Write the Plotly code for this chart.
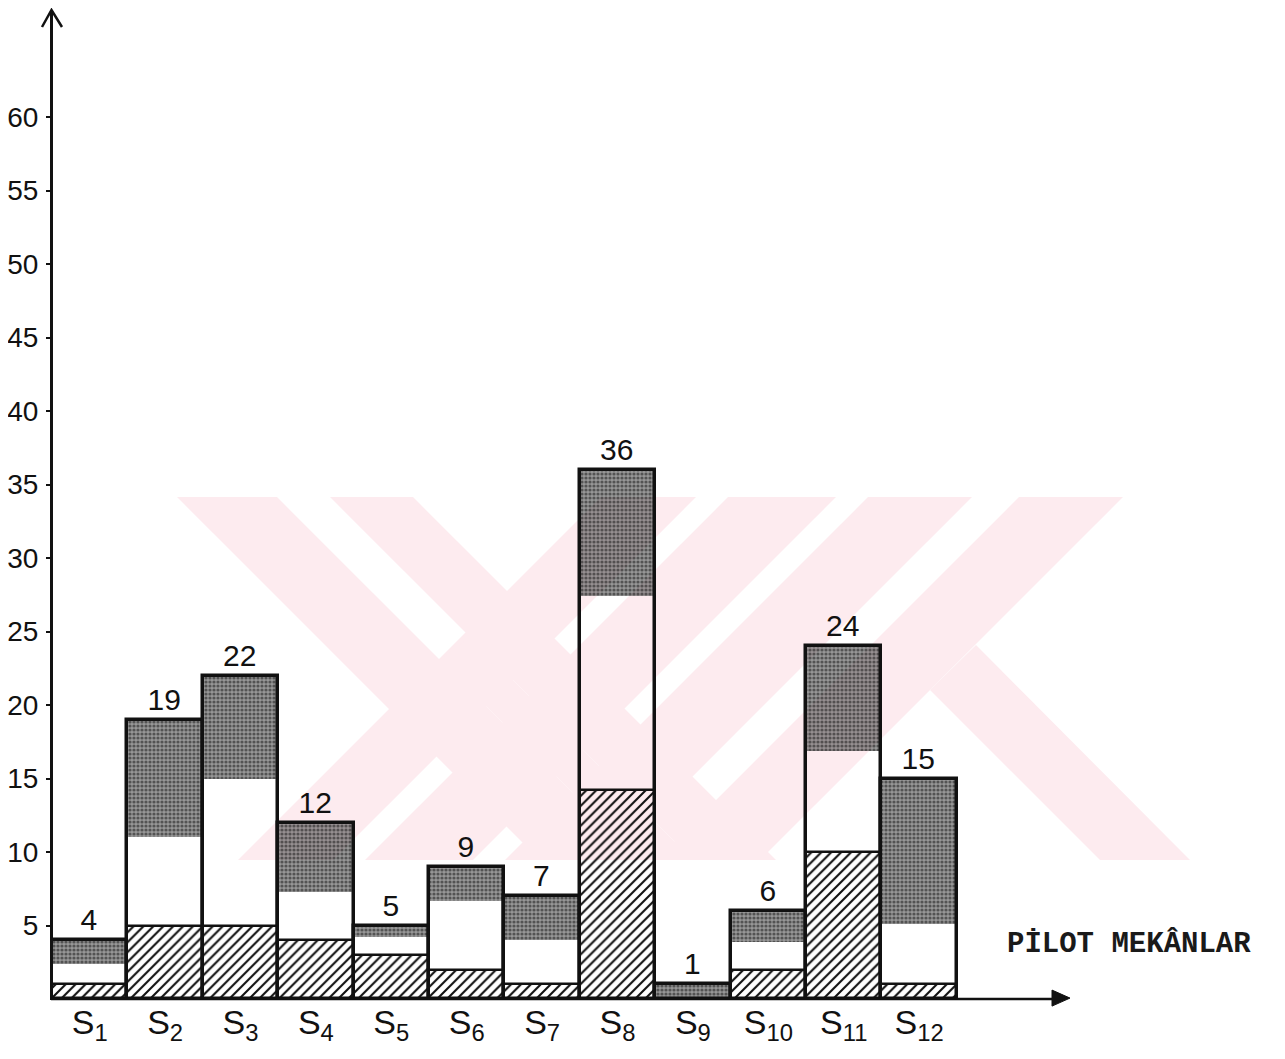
import plotly.graph_objects as go

# ---------------- data ----------------
categories = ["S<sub>1</sub>", "S<sub>2</sub>", "S<sub>3</sub>", "S<sub>4</sub>", "S<sub>5</sub>", "S<sub>6</sub>",
              "S<sub>7</sub>", "S<sub>8</sub>", "S<sub>9</sub>", "S<sub>10</sub>", "S<sub>11</sub>", "S<sub>12</sub>"]
hatched = [1, 5, 5, 4, 3, 2, 1, 14.2, 0, 2, 10, 1]
plain = [1.4, 6, 10, 3.3, 1.2, 4.7, 3, 13.2, 0, 1.9, 6.9, 4.1]
stippled = [1.6, 8, 7, 4.7, 0.8, 2.3, 3, 8.6, 1, 2.1, 7.1, 9.9]
totals = [4, 19, 22, 12, 5, 9, 7, 36, 1, 6, 24, 15]
y_ticks = [5, 10, 15, 20, 25, 30, 35, 40, 45, 50, 55, 60]
axis_title = "PİLOT MEKÂNLAR"

# ---------------- geometry of the page ----------------
PAGE_OFF = 8                       # default body margin of the html page
W, H = 1285 - 2 * PAGE_OFF, 1059 - 2 * PAGE_OFF
PLOT_L = 44                        # px of left plot edge inside the figure (= y axis)
PX_PER_BAR = 75.4
PX_PER_UNIT = 14.7
ZERO_PAGE_PY = 999                 # page pixel row of value 0
PLOT_W = W - PLOT_L
X_MIN = -0.5
X_MAX = X_MIN + PLOT_W / PX_PER_BAR
Y_MIN = -0.13
Y_MAX = (ZERO_PAGE_PY - PAGE_OFF) / PX_PER_UNIT
PLOT_H = (Y_MAX - Y_MIN) * PX_PER_UNIT
B_MARGIN = H - PLOT_H


def px2x(px):
    return X_MIN + (px - PAGE_OFF - PLOT_L) / PX_PER_BAR


def py2y(py):
    return (ZERO_PAGE_PY - py) / PX_PER_UNIT


def px2paper(px):
    return (px - PAGE_OFF - PLOT_L) / PLOT_W


def py2paper(py):
    return (py2y(py) - Y_MIN) / (Y_MAX - Y_MIN)


def path_data(points, close=True):
    s = "M " + " L ".join(f"{px2x(a):.4f},{py2y(b):.4f}" for a, b in points)
    return s + (" Z" if close else "")


def path_paper(points, close=True):
    s = "M " + " L ".join(f"{px2paper(a):.5f},{py2paper(b):.5f}" for a, b in points)
    return s + (" Z" if close else "")


xs = list(range(len(categories)))
base_plain = [h for h in hatched]
base_stip = [h + p for h, p in zip(hatched, plain)]

fig = go.Figure()

# hatched bottom segment
fig.add_trace(go.Bar(
    x=xs, y=hatched, base=[0] * len(xs), width=1,
    marker=dict(color="rgba(0,0,0,0)",
                pattern=dict(shape="/", fgcolor="#111111", bgcolor="rgba(0,0,0,0)",
                             size=7, solidity=0.3, fillmode="replace"),
                line=dict(color="#111111", width=2.5)),
    showlegend=False, hoverinfo="skip"))

# plain (white) middle segment
fig.add_trace(go.Bar(
    x=xs, y=plain, base=base_plain, width=1,
    marker=dict(color="rgba(0,0,0,0)", line=dict(width=0)),
    showlegend=False, hoverinfo="skip"))

# stippled top segment
fig.add_trace(go.Bar(
    x=xs, y=stippled, base=base_stip, width=1,
    marker=dict(color="rgba(70,70,70,0.65)",
                pattern=dict(shape=".", fgcolor="#121212", bgcolor="rgba(85,85,85,0.62)",
                             size=4, solidity=0.5, fillmode="overlay"),
                line=dict(width=0)),
    showlegend=False, hoverinfo="skip"))

# outline of each column with its total above
fig.add_trace(go.Bar(
    x=xs, y=totals, base=[0] * len(xs), width=1,
    marker=dict(color="rgba(0,0,0,0)", line=dict(color="#111111", width=3.5)),
    text=[str(t) for t in totals], textposition="outside",
    textfont=dict(family="Liberation Sans", size=30, color="#111111"),
    cliponaxis=False,
    showlegend=False, hoverinfo="skip"))

# ---------------- watermark (decorative, drawn below) ----------------
PINK = "#fdebef"
wm_polys = [
    # "/" stripes, top y=497 -> bottom y=860
    [(601, 497), (696, 497), (333, 860), (238, 860)],
    [(728, 497), (836, 497), (473, 860), (365, 860)],
    [(868, 497), (972, 497), (609, 860), (505, 860)],
    [(1019, 497), (1123, 497), (760, 860), (656, 860)],
    # "\" stripes on the left
    [(177, 497), (277, 497), (640, 860), (540, 860)],
    [(330, 497), (413, 497), (776, 860), (693, 860)],
    [(440, 660), (470, 637), (693, 860), (640, 860)],
    # lower right arm
    [(976, 645), (1190, 860), (1100, 860), (930, 690)],
]
shapes = []
for poly in wm_polys:
    shapes.append(dict(type="path", path=path_data(poly), xref="x", yref="y",
                       fillcolor=PINK, line=dict(width=0), layer="below"))

# y axis line and open arrowhead (paper coords, not clipped)
shapes.append(dict(type="line", xref="paper", yref="paper",
                   x0=px2paper(51.5), x1=px2paper(51.5), y0=py2paper(1000), y1=py2paper(11),
                   line=dict(color="#111111", width=3)))
shapes.append(dict(type="path", xref="paper", yref="paper",
                   path=path_paper([(42, 27), (51.5, 10), (62, 27)], close=False),
                   line=dict(color="#111111", width=2.5)))
# x axis line and filled arrowhead
shapes.append(dict(type="line", xref="paper", yref="paper",
                   x0=px2paper(51), x1=px2paper(1058), y0=py2paper(999), y1=py2paper(999),
                   line=dict(color="#111111", width=2.5)))
shapes.append(dict(type="path", xref="paper", yref="paper",
                   path=path_paper([(1052, 990), (1070, 998), (1052, 1006)]),
                   fillcolor="#111111", line=dict(color="#111111", width=1)))

annotations = [dict(
    text="<b>" + axis_title + "</b>", xref="paper", yref="paper",
    x=px2paper(1005), y=py2paper(944),
    xanchor="left", yanchor="middle", showarrow=False,
    font=dict(family="Liberation Mono", size=29, color="#1a1a1a"))]

fig.update_layout(
    width=W, height=H, autosize=False,
    margin=dict(l=PLOT_L, r=0, t=0, b=B_MARGIN, pad=0),
    barmode="overlay", bargap=0,
    paper_bgcolor="white", plot_bgcolor="white",
    shapes=shapes, annotations=annotations,
    xaxis=dict(range=[X_MIN, X_MAX], tickvals=xs, ticktext=categories, automargin=False,
               showgrid=False, zeroline=False, showline=False, ticks="",
               ticklabelstandoff=-2,
               tickfont=dict(family="Liberation Sans", size=34, color="#111111")),
    yaxis=dict(range=[Y_MIN, Y_MAX], tickvals=y_ticks, ticktext=[str(v) for v in y_ticks],
               automargin=False,
               showgrid=False, zeroline=False, showline=False,
               ticks="outside", ticklen=5, tickwidth=1.5, tickcolor="#111111",
               ticklabelstandoff=2,
               tickfont=dict(family="Liberation Sans", size=28, color="#111111")),
    showlegend=False,
)

fig.write_html("out.html")
